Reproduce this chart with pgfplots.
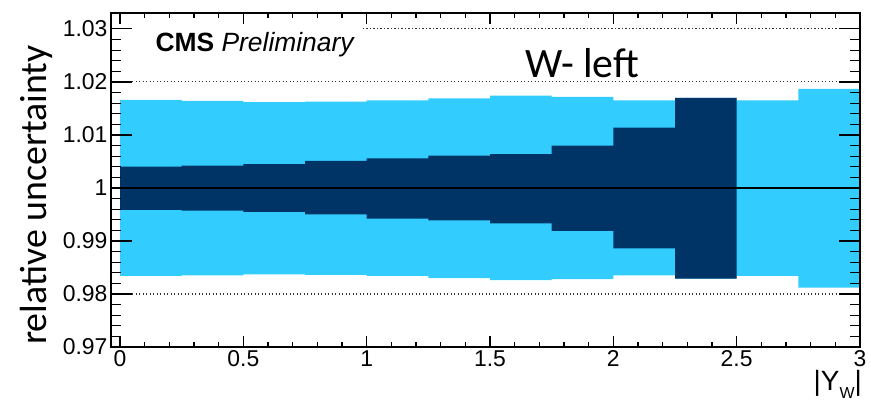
\documentclass[border=0pt]{standalone}
\usepackage{pgfplots}
\pgfplotsset{compat=1.18}
\usepackage{pgfplotstable}
\usepgfplotslibrary{fillbetween}
\usepackage{fontspec}
\setmainfont{Liberation Sans}
\newfontfamily\carlito{Carlito}

\definecolor{lightband}{RGB}{51,204,255}
\definecolor{darkband}{RGB}{0,51,102}

% Bin lower edges (width 0.25); last row closes the final bin.
% lu/ll: outer (total) band, du/dl: inner band
\pgfplotstableread{
x     lu      ll      du      dl
0.00  1.0166  0.9834  1.0040  0.99585
0.25  1.0164  0.9835  1.0042  0.9957
0.50  1.0162  0.9837  1.0045  0.9955
0.75  1.0163  0.9836  1.0051  0.9950
1.00  1.0165  0.9834  1.0056  0.9942
1.25  1.0169  0.9830  1.0061  0.9939
1.50  1.0174  0.9826  1.0064  0.9933
1.75  1.0172  0.9828  1.0080  0.9919
2.00  1.0165  0.9835  1.0114  0.9886
2.25  1.0170  0.9829  1.0170  0.9829
2.50  1.0165  0.9834  1.0000  1.0000
2.75  1.0187  0.9812  1.0000  1.0000
3.00  1.0187  0.9812  1.0000  1.0000
}\bands

\pgfplotsset{
  frame/.style={
    scale only axis, width=749bp, height=334bp,
    xmin=-0.0365, xmax=3, ymin=0.97, ymax=1.033,
    axis line style={line width=1.6bp},
    every tick/.style={black, line width=1.2bp},
    /pgf/number format/assume math mode=true,
    tick label style={font=\fontsize{23}{25}\selectfont},
  },
}

\begin{document}
\begin{tikzpicture}
\begin{axis}[frame, axis on top,
  xtick=\empty,
  ytick={0.97,0.98,0.99,1,1.01,1.02,1.03},
  minor y tick num=4,
  major tick length=21bp, minor tick length=10bp,
  ylabel={relative uncertainty},
  ylabel style={font=\carlito\fontsize{38}{40}\selectfont,
    at={(axis description cs:-0.0855,0.455)}, anchor=base},
]
\coordinate (bl) at (rel axis cs:0,0);
\coordinate (tr) at (rel axis cs:1,1);

% dotted reference lines
\addplot[black!80, line width=1.1bp, dash pattern=on 1.2bp off 2.3bp] coordinates {(0.985,1.03) (3,1.03)};
\addplot[black!80, line width=1.1bp, dash pattern=on 1.2bp off 2.3bp] coordinates {(-0.0365,1.02) (3,1.02)};
\addplot[black!80, line width=1.1bp, dash pattern=on 1.2bp off 2.3bp] coordinates {(-0.0365,0.98) (3,0.98)};

% outer band
\addplot[draw=none, const plot, name path=lu] table[x=x, y=lu]{\bands};
\addplot[draw=none, const plot, name path=ll] table[x=x, y=ll]{\bands};
\addplot[lightband] fill between[of=lu and ll];

% inner band
\addplot[draw=none, const plot, name path=du] table[x=x, y=du]{\bands};
\addplot[draw=none, const plot, name path=dl] table[x=x, y=dl]{\bands};
\addplot[darkband] fill between[of=du and dl];

% nominal
\addplot[black, line width=1.8bp] coordinates {(0,1) (3,1)};

\node[anchor=base west, font=\fontsize{26.5}{28}\selectfont]
  at (axis cs:0.13,1.0257) {\textbf{CMS} \textit{Preliminary}};
\node[anchor=base west, font=\carlito\fontsize{42}{44}\selectfont]
  at (axis cs:1.63,1.02075) {W- left};
\end{axis}

\begin{axis}[frame, clip=false,
  ytick=\empty,
  xtick={0,0.5,1,1.5,2,2.5,3},
  minor x tick num=4,
  major tick length=11bp, minor tick length=5bp,
]
\node[anchor=base east, inner sep=0pt, font=\fontsize{28}{30}\selectfont]
  at ([xshift=2bp, yshift=-44bp]rel axis cs:1,0)
  {|Y\raisebox{-0.27em}{\fontsize{16}{16}\selectfont W}|};
\end{axis}

\pgfresetboundingbox
\path ([shift={(-111bp,-57bp)}]bl) rectangle ([shift={(11bp,13bp)}]tr);
\end{tikzpicture}
\end{document}
